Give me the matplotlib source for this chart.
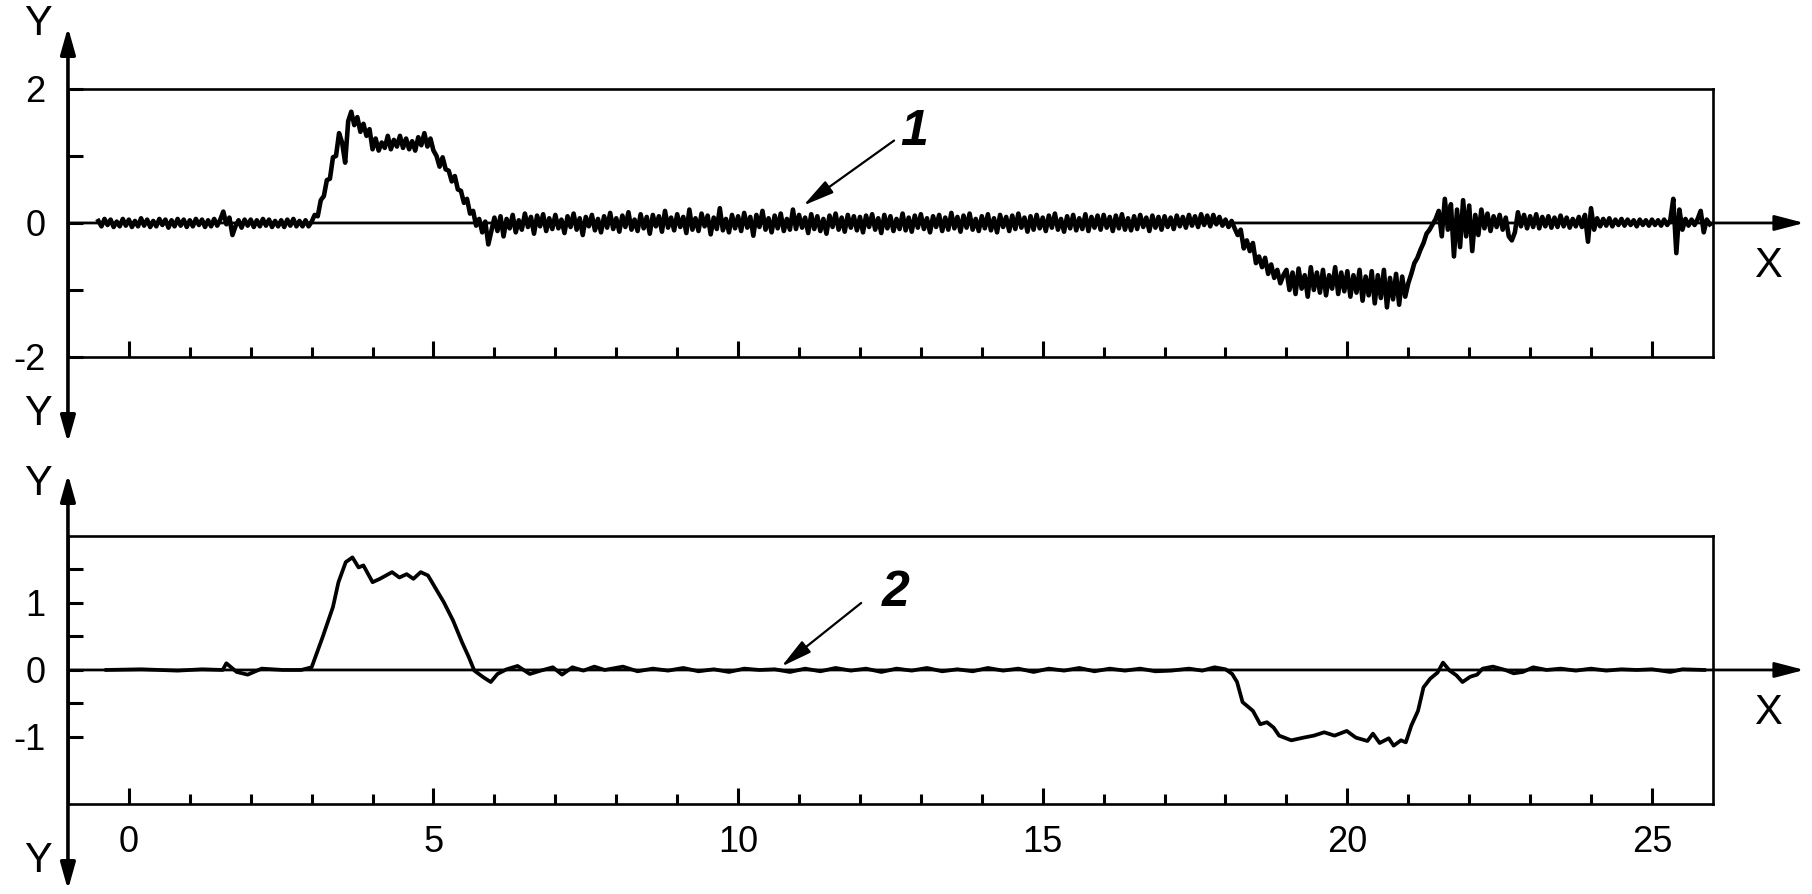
import numpy as np
import matplotlib.pyplot as plt

plt.rcParams['font.family'] = ['Liberation Sans', 'DejaVu Sans']

# curve 1: raw signal, one value every 0.05 starting at x = -0.5
top_x0 = -0.5
top_dx = 0.05
top_y = [
    0.03, -0.05, 0.06, -0.03, 0.05, -0.06, 0.02, -0.05, 0.06, -0.04,
    # 0
    0.05, -0.06, 0.03, -0.05, 0.07, -0.04, 0.05, -0.06, 0.03, -0.05,
    0.06, -0.03, 0.05, -0.07, 0.04, -0.05, 0.06, -0.04, 0.05, -0.06,
    # 1
    0.04, -0.05, 0.06, -0.03, 0.05, -0.06, 0.04, -0.05, 0.06, -0.04,
    0.05, 0.17, -0.02, 0.08, -0.18, -0.05, 0.04, -0.07, 0.05, -0.04,
    # 2
    0.05, -0.06, 0.04, -0.05, 0.06, -0.04, 0.05, -0.06, 0.03, -0.05,
    0.04, -0.06, 0.05, -0.04, 0.06, -0.05, 0.03, -0.05, 0.04, -0.05,
    # 3
    0.02, 0.12, 0.1, 0.34, 0.4, 0.64, 0.66, 0.98, 1.0, 1.34,
    1.2, 0.9, 1.52, 1.66, 1.46, 1.58, 1.36, 1.48, 1.3, 1.4,
    # 4
    1.1, 1.26, 1.08, 1.2, 1.12, 1.3, 1.1, 1.24, 1.14, 1.3,
    1.12, 1.26, 1.1, 1.22, 1.08, 1.28, 1.16, 1.34, 1.14, 1.26,
    # 5
    1.08, 1.0, 0.84, 0.98, 0.8, 0.78, 0.62, 0.7, 0.5, 0.48,
    0.3, 0.36, 0.14, 0.18, -0.04, 0.06, -0.14, 0.02, -0.32, -0.12,
    # 6
    0.08, -0.12, 0.1, -0.2, 0.06, -0.08, 0.12, -0.14, 0.04, -0.1,
    0.14, -0.06, 0.09, -0.16, 0.11, -0.05, 0.13, -0.12, 0.07, -0.09,
    # 7
    0.12, -0.08, 0.05, -0.15, 0.1, -0.06, 0.14, -0.1, 0.07, -0.18,
    0.09, -0.05, 0.12, -0.11, 0.06, -0.14, 0.1, -0.07, 0.15, -0.09,
    # 8
    0.07, -0.13, 0.11, -0.06, 0.16, -0.1, 0.05, -0.12, 0.13, -0.08,
    0.09, -0.16, 0.12, -0.05, 0.1, -0.13, 0.18, -0.07, 0.08, -0.11,
    # 9
    0.13, -0.06, 0.09, -0.15, 0.2, -0.1, 0.07, -0.12, 0.14, -0.05,
    0.11, -0.17, 0.08, -0.09, 0.22, -0.11, 0.06, -0.14, 0.12, -0.08,
    # 10
    0.1, -0.12, 0.15, -0.07, 0.09, -0.19, 0.12, -0.06, 0.18, -0.1,
    0.07, -0.14, 0.11, -0.08, 0.14, -0.12, 0.06, -0.1, 0.2, -0.09,
    # 11
    0.12, -0.07, 0.08, -0.15, 0.13, -0.09, 0.1, -0.12, 0.06, -0.16,
    0.11, -0.06, 0.14, -0.1, 0.08, -0.13, 0.12, -0.07, 0.1, -0.11,
    # 12
    0.09, -0.14, 0.11, -0.06, 0.13, -0.1, 0.07, -0.15, 0.12, -0.08,
    0.1, -0.12, 0.06, -0.09, 0.14, -0.11, 0.08, -0.13, 0.11, -0.07,
    # 13
    0.13, -0.09, 0.07, -0.14, 0.1, -0.06, 0.12, -0.12, 0.08, -0.1,
    0.15, -0.08, 0.09, -0.13, 0.11, -0.07, 0.14, -0.1, 0.06, -0.12,
    # 14
    0.1, -0.08, 0.13, -0.11, 0.07, -0.14, 0.12, -0.06, 0.09, -0.12,
    0.11, -0.09, 0.14, -0.07, 0.08, -0.13, 0.1, -0.1, 0.12, -0.08,
    # 15
    0.08, -0.12, 0.11, -0.07, 0.14, -0.1, 0.06, -0.13, 0.1, -0.08,
    0.12, -0.11, 0.07, -0.09, 0.13, -0.12, 0.09, -0.07, 0.11, -0.1,
    # 16
    0.12, -0.07, 0.09, -0.12, 0.11, -0.08, 0.13, -0.1, 0.07, -0.11,
    0.1, -0.09, 0.12, -0.06, 0.08, -0.12, 0.11, -0.07, 0.09, -0.1,
    # 17
    0.1, -0.06, 0.08, -0.09, 0.11, -0.05, 0.09, -0.07, 0.12, -0.04,
    0.1, -0.06, 0.13, -0.03, 0.11, -0.05, 0.12, -0.02, 0.09, -0.04,
    # 18
    0.05, -0.06, 0.03, -0.08, -0.18, -0.1, -0.38, -0.26, -0.42, -0.3,
    -0.6, -0.5, -0.66, -0.52, -0.76, -0.62, -0.82, -0.7, -0.9, -0.78,
    # 19
    -0.7, -1.0, -0.74, -1.06, -0.68, -0.98, -0.78, -1.1, -0.66, -1.0,
    -0.74, -1.04, -0.7, -1.08, -0.78, -0.98, -0.66, -1.06, -0.74, -1.02,
    # 20
    -0.72, -1.1, -0.78, -1.04, -0.7, -1.16, -0.8, -1.08, -0.72, -1.2,
    -0.78, -1.12, -0.7, -1.26, -0.82, -1.14, -0.76, -1.22, -0.8, -1.1,
    # 21
    -0.9, -0.76, -0.6, -0.52, -0.4, -0.3, -0.16, -0.1, -0.02, 0.06,
    0.18, -0.2, 0.36, -0.1, 0.28, -0.5, 0.2, -0.36, 0.34, -0.2,
    # 22
    0.26, -0.42, 0.12, -0.18, 0.2, -0.08, 0.14, -0.12, 0.1, -0.06,
    0.12, -0.1, 0.08, -0.2, -0.26, -0.14, 0.16, -0.05, 0.12, -0.08,
    # 23
    0.1, -0.06, 0.13, -0.08, 0.09, -0.05, 0.1, -0.07, 0.08, -0.06,
    0.11, -0.05, 0.08, -0.07, 0.06, -0.05, 0.09, -0.06, 0.12, -0.28,
    # 24
    0.22, -0.1, 0.07, -0.05, 0.06, -0.04, 0.07, -0.05, 0.05, -0.03,
    0.06, -0.04, 0.05, -0.03, 0.04, -0.05, 0.05, -0.03, 0.04, -0.04,
    # 25
    0.05, -0.03, 0.04, -0.04, 0.05, -0.03, 0.04, 0.36, -0.45, 0.2,
    -0.1, 0.06, -0.04, 0.05, -0.03, 0.06, 0.18, -0.14, 0.05, -0.02,
]

# curve 2: filtered signal
bot_x = [
    -0.37, 0.2, 0.8, 1.2, 1.54, 1.6, 1.77, 1.95, 2.18, 2.53, 2.83, 3.0,
    3.18, 3.35, 3.44, 3.56, 3.67, 3.77, 3.85, 4.0, 4.12, 4.32, 4.44, 4.56,
    4.67, 4.79, 4.91, 5.06, 5.17, 5.32, 5.47, 5.58, 5.67, 5.82, 5.94, 6.05,
    6.2, 6.38, 6.58, 6.76, 6.96, 7.11, 7.28, 7.46, 7.64, 7.81, 8.11,
    8.35, 8.6, 8.85, 9.1, 9.35, 9.6, 9.85, 10.1, 10.35, 10.6, 10.85, 11.1,
    11.35, 11.6, 11.85, 12.1, 12.35, 12.6, 12.85, 13.1, 13.35, 13.6, 13.85,
    14.1, 14.35, 14.6, 14.85, 15.1, 15.35, 15.6, 15.85, 16.1, 16.35, 16.6,
    16.85, 17.11, 17.4, 17.62, 17.82, 18.0, 18.11, 18.19, 18.28, 18.45,
    18.57, 18.68, 18.79, 18.88, 19.08, 19.28, 19.45, 19.62, 19.79, 19.99,
    20.14, 20.33, 20.42, 20.53, 20.68, 20.76, 20.88, 20.96, 21.05, 21.16,
    21.25, 21.36, 21.48, 21.57, 21.68, 21.79, 21.89, 22.02, 22.13, 22.22,
    22.39, 22.59, 22.73, 22.88, 23.05, 23.27, 23.5, 23.75, 24.0, 24.25,
    24.5, 24.75, 25.0, 25.3, 25.5, 25.86,
]
bot_y = [
    0, 0.01, -0.01, 0.01, 0, 0.1, -0.03, -0.07, 0.02, 0, 0, 0.04,
    0.49, 0.94, 1.31, 1.61, 1.68, 1.53, 1.56, 1.31, 1.36, 1.46, 1.38, 1.43,
    1.36, 1.46, 1.41, 1.18, 1.01, 0.74, 0.41, 0.19, -0.01, -0.11, -0.18, -0.06,
    0.01, 0.06, -0.06, -0.01, 0.04, -0.07, 0.04, -0.01, 0.05, 0, 0.05,
    -0.02, 0.02, -0.01, 0.03, -0.02, 0.01, -0.03, 0.02, 0, 0.01, -0.03, 0.02,
    -0.02, 0.03, -0.01, 0.02, -0.03, 0.02, -0.01, 0.03, -0.02, 0.01, -0.02,
    0.03, -0.01, 0.02, -0.03, 0.02, -0.01, 0.03, -0.02, 0.02, -0.01, 0.02,
    -0.02, -0.01, 0.02, -0.01, 0.04, 0.01, -0.06, -0.18, -0.48, -0.61,
    -0.81, -0.78, -0.86, -0.98, -1.05, -1.01, -0.98, -0.93, -0.98, -0.91,
    -1.01, -1.06, -0.95, -1.09, -1.02, -1.13, -1.05, -1.08, -0.83, -0.61,
    -0.26, -0.13, -0.04, 0.11, -0.01, -0.08, -0.18, -0.1, -0.07, 0.02,
    0.05, 0, -0.05, -0.03, 0.04, 0, 0.02, -0.01, 0.02, -0.01,
    0.01, 0, 0.01, -0.03, 0.01, 0,
]

x_major = [0, 5, 10, 15, 20, 25]
x_labels = ['0', '5', '10', '15', '20', '25']
x_minor = list(range(0, 26))

top_yticks = [2, 0, -2]
top_ylabels = ['2', '0', '-2']
top_yminor = [1, -1]
bot_yticks = [1, 0, -1]
bot_ylabels = ['1', '0', '-1']
bot_yminor = [1.5, 0.5, -0.5]

# annotation: (label, text pos, arrow start, arrow tip)
note1 = ('1', (12.89, 1.17), (12.56, 1.23), (11.07, 0.26))
note2 = ('2', (12.58, 0.96), (12.02, 1.0), (10.71, 0.05))

fig = plt.figure(figsize=(18.12, 8.94), dpi=100)
ax1 = fig.add_axes([0.0375, 0.6007, 0.9078, 0.2998])
ax2 = fig.add_axes([0.0375, 0.1007, 0.9078, 0.2998])

top_x = top_x0 + top_dx * np.arange(len(top_y))
ax1.plot(top_x, top_y, color='black', lw=3.3, solid_joinstyle='round', zorder=3)
ax2.plot(bot_x, bot_y, color='black', lw=2.7, solid_joinstyle='round', zorder=3)

tick_font = 26
letter_font = 30
for ax, yt, yl, ym, note, ytop in [(ax1, top_yticks, top_ylabels, top_yminor, note1, 2.97),
                                   (ax2, bot_yticks, bot_ylabels, bot_yminor, note2, 2.78)]:
    ax.set_xlim(-1, 26)
    ax.set_ylim(-2, 2)
    for s in ax.spines.values():
        s.set_linewidth(1.9)
    ax.set_xticks(x_major)
    ax.set_xticks(x_minor, minor=True)
    ax.set_yticks(yt)
    ax.set_yticklabels(yl)
    ax.set_yticks(ym, minor=True)
    ax.tick_params(axis='both', which='both', direction='in', width=2.2,
                   right=False, top=False, labelsize=tick_font)
    ax.tick_params(axis='x', which='major', length=11.5, pad=15)
    ax.tick_params(axis='x', which='minor', length=7.2)
    ax.tick_params(axis='y', which='both', length=10.8, pad=16)

    # x axis with arrow
    ax.annotate('', xy=(27.5, 0), xytext=(-1, 0), annotation_clip=False,
                arrowprops=dict(arrowstyle='-|>,head_length=1.8,head_width=0.47',
                                mutation_scale=10, lw=2.0, color='black',
                                shrinkA=0, shrinkB=0))
    # y axis with arrows at both ends
    ax.annotate('', xy=(-1, 2.92), xytext=(-1, -3.28), annotation_clip=False,
                arrowprops=dict(arrowstyle='<|-|>,head_length=1.6,head_width=0.45',
                                mutation_scale=10, lw=2.6, color='black',
                                shrinkA=0, shrinkB=0))
    ax.text(-1.49, ytop, 'Y', fontsize=letter_font, ha='center', va='center', clip_on=False)
    ax.text(-1.49, -2.85, 'Y', fontsize=letter_font, ha='center', va='center', clip_on=False)
    ax.text(26.9, -0.64, 'X', fontsize=letter_font, ha='center', va='center', clip_on=False)

    label, tpos, start, tip = note
    ax.annotate('', xy=tip, xytext=start,
                arrowprops=dict(arrowstyle='-|>,head_length=0.95,head_width=0.22',
                                mutation_scale=20, lw=1.6, color='black',
                                shrinkA=0, shrinkB=0))
    ax.text(tpos[0], tpos[1], label, fontsize=36, fontweight='bold',
            fontstyle='italic', ha='center', va='baseline')

ax1.set_xticklabels([])
ax2.set_xticklabels(x_labels)

fig.savefig('out.png', dpi=100)
